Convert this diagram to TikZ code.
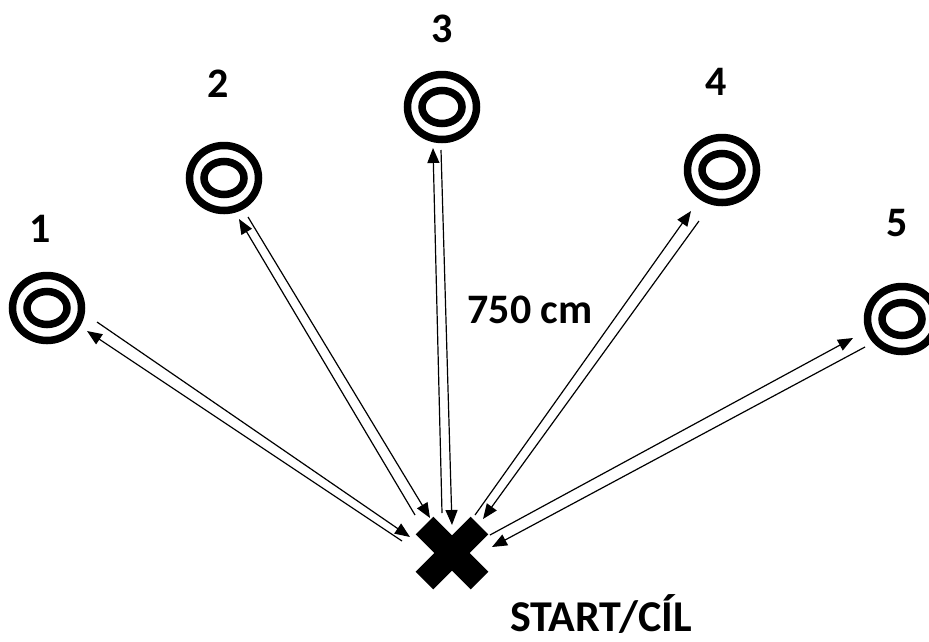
\documentclass[tikz,border=0pt]{standalone}
\usepackage{fontspec}
\setmainfont{Carlito}
\usetikzlibrary{arrows.meta}
\begin{document}
\begin{tikzpicture}[x=1pt,y=-1pt,
  target/.style={line width=7.5pt},
  conn/.style={line width=1.2pt,-{Triangle[length=15pt,width=12pt]}},
  lbl/.style={font=\fontsize{42}{50}\selectfont\bfseries,inner sep=0pt,anchor=base},
  cross/.style={line width=25pt,line cap=butt}]
\useasboundingbox (0,0) rectangle (929,641);

% start / finish point
\coordinate (start) at (452,553);
\draw[cross] (start) +(-27.5,-27.5) -- +(27.5,27.5);
\draw[cross] (start) +(27.5,-27.5) -- +(-27.5,27.5);

% targets
\coordinate (t1) at (47,308);
\coordinate (t2) at (224,178);
\coordinate (t3) at (442,107);
\coordinate (t4) at (722,170);
\coordinate (t5) at (902,319);
\foreach \t in {t1,t2,t3,t4,t5}{
  \draw[target] (\t) ellipse [x radius=34.5, y radius=32.5];
  \draw[target] (\t) ellipse [x radius=20, y radius=16.5];
}

% target numbers
\node[lbl] (n1) at (40,242) {1};
\node[lbl] (n2) at (218,97) {2};
\node[lbl] (n3) at (442,42) {3};
\node[lbl] (n4) at (716,95) {4};
\node[lbl] (n5) at (897,236) {5};

\node[lbl] (dist) at (530,323) {750 cm};
\node[lbl,font=\fontsize{44}{52}\selectfont\bfseries,anchor=base west] (goal) at (510,631) {START/CÍL};

% outbound and return legs
\coordinate (o1s) at (402,541); \coordinate (o1e) at (87,331);
\coordinate (r1s) at (97,322);  \coordinate (r1e) at (410,537);
\coordinate (o2s) at (415,515); \coordinate (o2e) at (239,219);
\coordinate (r2s) at (248,217); \coordinate (r2e) at (430,518);
\coordinate (o3s) at (442,513); \coordinate (o3e) at (433,148);
\coordinate (r3s) at (441,150); \coordinate (r3e) at (452,525);
\coordinate (o4s) at (475,515); \coordinate (o4e) at (691,211);
\coordinate (r4s) at (699,221); \coordinate (r4e) at (483,519);
\coordinate (o5s) at (490,535); \coordinate (o5e) at (853,338);
\coordinate (r5s) at (865,347); \coordinate (r5e) at (492,547);
\foreach \i in {1,...,5}{
  \draw[conn] (o\i s) -- (o\i e);
  \draw[conn] (r\i s) -- (r\i e);
}
\end{tikzpicture}
\end{document}
